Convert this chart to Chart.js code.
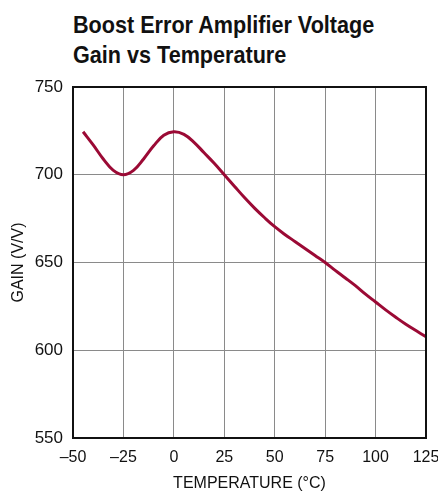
<!DOCTYPE html>
<html>
<head>
<meta charset="utf-8">
<script src="https://cdn.jsdelivr.net/npm/chart.js@4/dist/chart.umd.min.js"></script>
<style>
  html, body { margin: 0; padding: 0; background: #fff; }
  #wrap { position: relative; width: 438px; height: 493px; }
  #title {
    position: absolute; left: 73px; top: 10px;
    font: bold 24px "Liberation Sans", Arial, sans-serif;
    line-height: 30px; color: #111; white-space: nowrap;
    transform-origin: 0 0; transform: scaleX(0.9);
  }
  canvas { position: absolute; left: 0; top: 0; }
</style>
</head>
<body>
<div id="wrap">
  <div id="title">Boost Error Amplifier Voltage<br>Gain vs Temperature</div>
  <canvas id="chart" width="438" height="493"></canvas>
</div>
<script>
(function () {
  const temps = [-45, -40, -35, -30, -25, -20, -15, -10, -5, 0, 5, 10, 15, 20, 25, 30, 35, 40, 45, 50, 55, 60, 65, 70, 75, 80, 85, 90, 95, 100, 105, 110, 115, 120, 125];
  const gain = [724.5, 717, 709, 702.5, 700, 702.5, 709, 716.5, 722.5, 724.5, 723, 718.5, 712.5, 706.5, 700, 693.5, 687, 681, 675.5, 670.4, 666, 662, 658, 654, 650, 645.5, 641.2, 636.8, 632, 627.5, 623, 618.8, 614.8, 611.2, 607.7];
  const xTicks = [-50, -25, 0, 25, 50, 75, 100, 125];
  const yTicks = [550, 600, 650, 700, 750];

  const FONT = '"Liberation Sans", Arial, sans-serif';
  const RED = '#9b0a35';

  const frame = {
    id: 'frame',
    afterDraw(c) {
      const a = c.chartArea, ctx = c.ctx;
      ctx.save();
      ctx.strokeStyle = '#111';
      ctx.lineWidth = 2;
      ctx.strokeRect(a.left, a.top, a.right - a.left, a.bottom - a.top);
      ctx.restore();
    }
  };

  new Chart(document.getElementById('chart'), {
    type: 'line',
    data: {
      datasets: [{
        data: temps.map((t, i) => ({ x: t, y: gain[i] })),
        borderColor: RED,
        borderWidth: 3,
        pointRadius: 0,
        tension: 0.4,
        fill: false
      }]
    },
    options: {
      responsive: false,
      animation: false,
      layout: { padding: { top: 87, right: 12, left: 0, bottom: 0 } },
      plugins: { legend: { display: false }, tooltip: { enabled: false } },
      scales: {
        x: {
          type: 'linear', min: -50, max: 125,
          afterBuildTicks: s => { s.ticks = xTicks.map(v => ({ value: v })); },
          afterFit: s => { s.height = 55; s.paddingLeft = 0; s.paddingRight = 0; },
          grid: { color: '#8a8a8a', lineWidth: 1, drawTicks: false },
          border: { display: false },
          ticks: {
            color: '#111', padding: 10, maxRotation: 0,
            font: { family: FONT, size: 16 },
            callback: v => String(v).replace('-', '\u2013')
          },
          title: {
            display: true, text: 'TEMPERATURE (°C)', color: '#111',
            font: { family: FONT, size: 16 }, padding: { top: 3, bottom: 0 }
          }
        },
        y: {
          min: 550, max: 750,
          afterBuildTicks: s => { s.ticks = yTicks.map(v => ({ value: v })); },
          afterFit: s => { s.width = 73; s.paddingTop = 0; s.paddingBottom = 0; },
          grid: { color: '#8a8a8a', lineWidth: 1, drawTicks: false },
          border: { display: false },
          ticks: { color: '#111', padding: 10, font: { family: FONT, size: 17 } },
          title: {
            display: true, text: 'GAIN (V/V)', color: '#111',
            font: { family: FONT, size: 16 }, padding: { top: 9, bottom: 4 }
          }
        }
      }
    },
    plugins: [frame]
  });
})();
</script>
</body>
</html>
